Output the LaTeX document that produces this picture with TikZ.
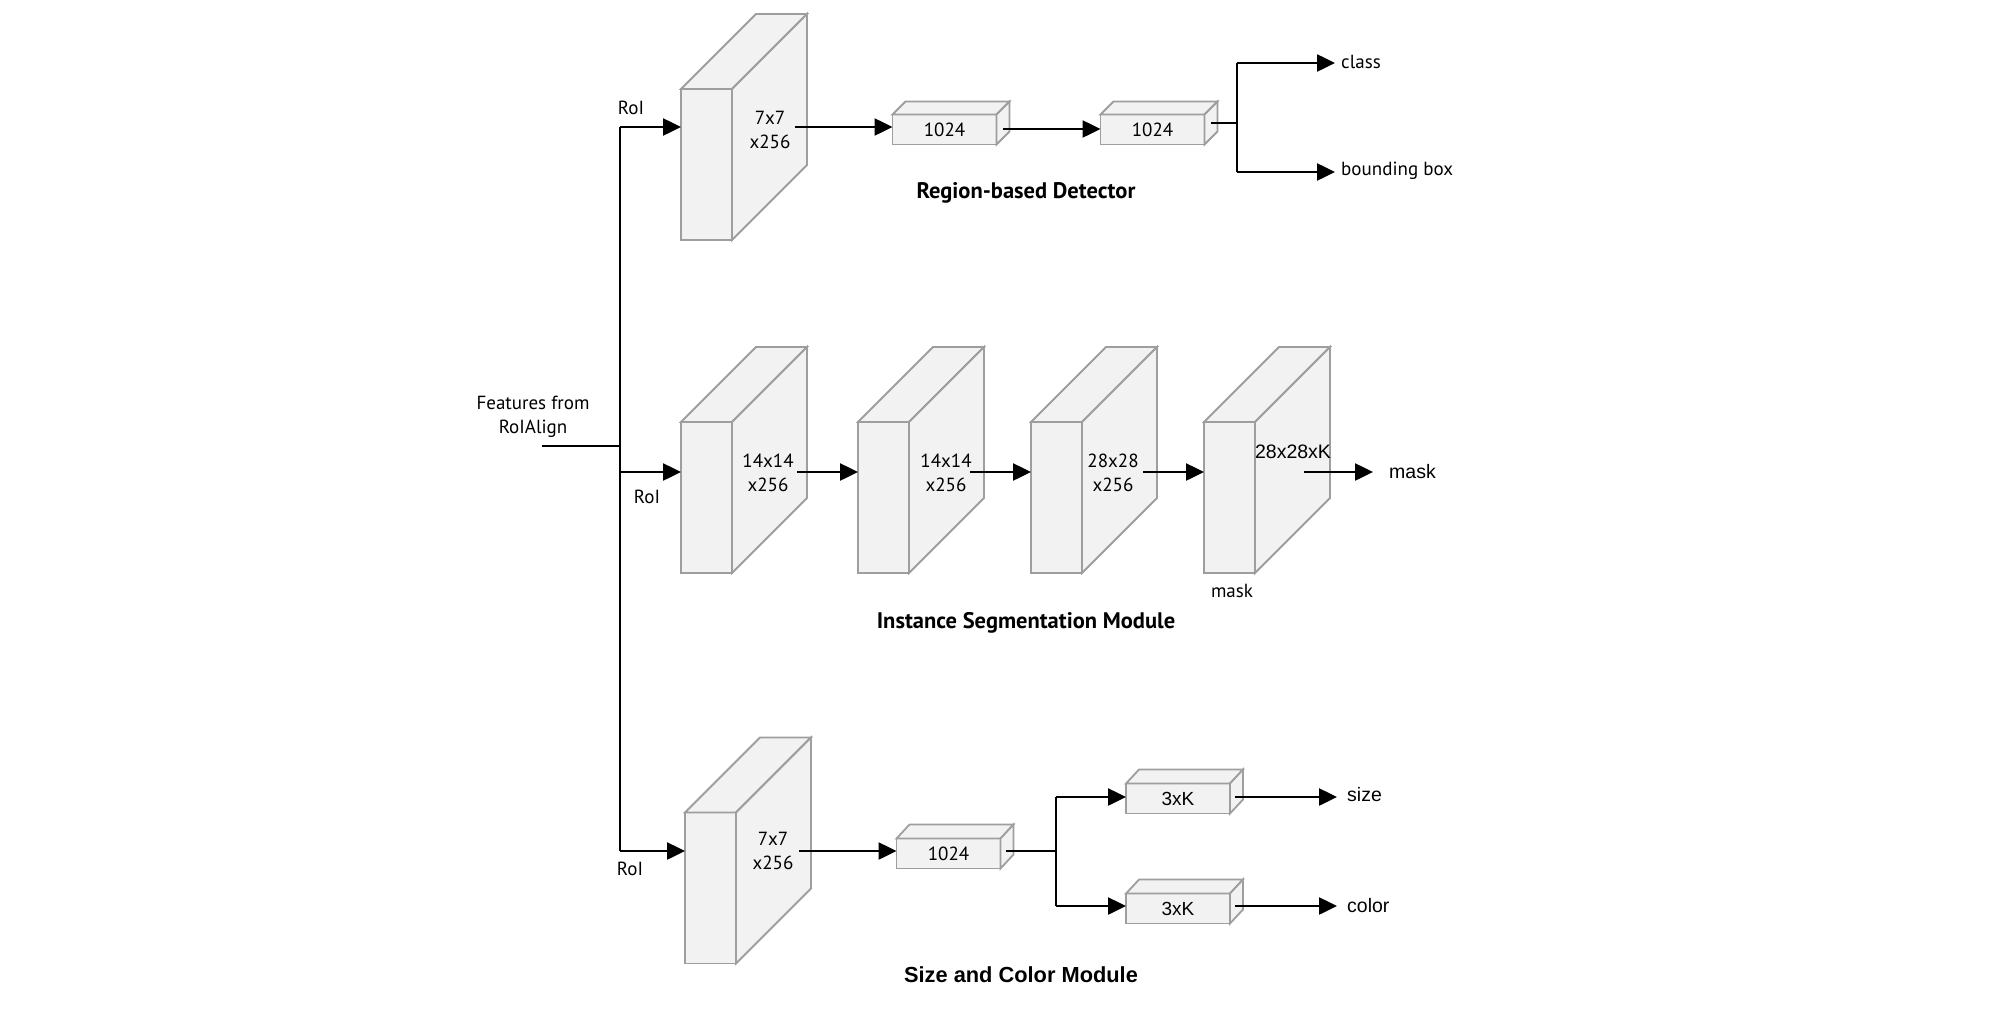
\documentclass[tikz,border=0pt]{standalone}
\usepackage{fontspec}
\setmainfont{PT Sans}
\newfontfamily\arialf{Liberation Sans}
\usetikzlibrary{arrows.meta,calc}
\definecolor{edgegray}{RGB}{158,158,158}
\definecolor{facegray}{RGB}{242,242,242}
\tikzset{
  face/.style={draw=edgegray, fill=facegray, line width=1.8pt, line join=miter},
  bigfront/.style={face, inner sep=0pt, outer sep=0pt, minimum width=51pt, minimum height=151pt},
  smallfront/.style={face, inner sep=0pt, outer sep=0pt, minimum width=104pt, minimum height=30pt, font=\fontsize{19}{24}\selectfont},
  smallfrontA/.style={smallfront, font=\arialf\fontsize{19}{24}\selectfont},
  lbl/.style={inner sep=0pt, align=center, font=\fontsize{19}{24}\selectfont},
  arl/.style={inner sep=0pt, align=center, font=\arialf\fontsize{19.5}{24}\selectfont},
  ttl/.style={inner sep=0pt, font=\bfseries\fontsize{22.5}{27}\selectfont},
  ttlA/.style={inner sep=0pt, font=\arialf\bfseries\fontsize{21.8}{26}\selectfont},
  conn/.style={line width=2.5pt, black},
  arr/.style={conn, -{Triangle[length=18pt,width=17pt]}},
}
\newcommand\depthfaces[3]{%
  \draw[face] (#1.north west) -- ++(#2,#3) -- ($(#1.north east)+(#2,#3)$) -- (#1.north east) -- cycle;
  \draw[face] (#1.north east) -- ++(#2,#3) -- ($(#1.south east)+(#2,#3)$) -- (#1.south east) -- cycle;
}
\begin{document}
\begin{tikzpicture}[x=1pt,y=-1pt]
\useasboundingbox (0,0) rectangle (2000,1036);

% ---------- big blocks ----------
\node[bigfront] (T1) at (706.5,164.5) {};
\depthfaces{T1}{75}{-75}
\node[bigfront] (M1) at (706.5,497.5) {};
\depthfaces{M1}{75}{-75}
\node[bigfront] (M2) at (883.5,497.5) {};
\depthfaces{M2}{75}{-75}
\node[bigfront] (M3) at (1056.5,497.5) {};
\depthfaces{M3}{75}{-75}
\node[bigfront] (M4) at (1229.5,497.5) {};
\depthfaces{M4}{75}{-75}
\node[bigfront] (B1) at (710.5,888) {};
\depthfaces{B1}{75}{-75}

% ---------- small boxes ----------
\node[smallfront] (TS1) at (944.5,129.5) {1024};
\depthfaces{TS1}{13}{-13}
\node[smallfront] (TS2) at (1152.5,129.5) {1024};
\depthfaces{TS2}{13}{-13}
\node[smallfront] (BS1) at (948.5,853.5) {1024};
\depthfaces{BS1}{13}{-14}
\node[smallfrontA] (BS2) at (1178,798.5) {3xK};
\depthfaces{BS2}{13}{-14}
\node[smallfrontA] (BS3) at (1178,908.5) {3xK};
\depthfaces{BS3}{13}{-14}

% ---------- block labels ----------
\node[lbl] (lT1) at (770,130) {7x7\\x256};
\node[lbl] (lM1) at (768,473) {14x14\\x256};
\node[lbl] (lM2) at (946,473) {14x14\\x256};
\node[lbl] (lM3) at (1113,473) {28x28\\x256};
\node[arl] (lM4) at (1293,452) {28x28xK};
\node[lbl] (lB1) at (773,851) {7x7\\x256};

% ---------- coordinates ----------
\coordinate (fin) at (542,446);
\coordinate (jF) at (620,446);
\coordinate (jT) at (620,127);
\coordinate (jM) at (620,472);
\coordinate (jB) at (620,851);
\coordinate (oT1) at (795,127);
\coordinate (oTS1) at (1003,129);
\coordinate (oTS2) at (1211,123);
\coordinate (jC) at (1237,123);
\coordinate (jCt) at (1237,63);
\coordinate (jCb) at (1237,172);
\coordinate (eClass) at (1335,63);
\coordinate (eBox) at (1335,172);
\coordinate (oM1) at (797,472);
\coordinate (oM2) at (970,472);
\coordinate (oM3) at (1143,472);
\coordinate (oM4) at (1304,472);
\coordinate (eMask) at (1373,472);
\coordinate (oB1) at (799,851);
\coordinate (oBS1) at (1006,851);
\coordinate (jS) at (1056,851);
\coordinate (jSt) at (1056,797);
\coordinate (jSb) at (1056,906);
\coordinate (oBS2) at (1235,797);
\coordinate (oBS3) at (1235,906);
\coordinate (eSize) at (1337,797);
\coordinate (eColor) at (1337,906);

% ---------- connectors ----------
\draw[conn] (fin) -- (jF);
\draw[conn] (jT) -- (jB);
\draw[arr] (jT) -- (T1.west |- jT);
\draw[arr] (jM) -- (M1.west |- jM);
\draw[arr] (jB) -- (B1.west |- jB);

\draw[arr] (oT1) -- (TS1.west |- oT1);
\draw[arr] (oTS1) -- (TS2.west |- oTS1);
\draw[conn] (oTS2) -- (jC);
\draw[conn] (jCt) -- (jCb);
\draw[arr] (jCt) -- (eClass);
\draw[arr] (jCb) -- (eBox);

\draw[arr] (oM1) -- (M2.west |- oM1);
\draw[arr] (oM2) -- (M3.west |- oM2);
\draw[arr] (oM3) -- (M4.west |- oM3);
\draw[arr] (oM4) -- (eMask);

\draw[arr] (oB1) -- (BS1.west |- oB1);
\draw[conn] (oBS1) -- (jS);
\draw[conn] (jSt) -- (jSb);
\draw[arr] (jSt) -- (BS2.west |- jSt);
\draw[arr] (jSb) -- (BS3.west |- jSb);
\draw[arr] (oBS2) -- (eSize);
\draw[arr] (oBS3) -- (eColor);

% ---------- text labels ----------
\node[lbl] (feat) at (533,417) {Features from\\RoIAlign};
\node[lbl] (roiT) at (631,108) {RoI};
\node[lbl] (roiM) at (647,497) {RoI};
\node[lbl] (roiB) at (630,869) {RoI};
\node[lbl, anchor=west] (tClass) at (1341,62) {class};
\node[lbl, anchor=west] (tBox) at (1341,171) {bounding box};
\node[arl, anchor=west] (tMask) at (1389,472) {mask};
\node[lbl] (tMask2) at (1232,591) {mask};
\node[arl, anchor=west] (tSize) at (1347,795) {size};
\node[arl, anchor=west] (tColor) at (1347,906) {color};
\node[ttl] (title1) at (1026,193) {Region-based Detector};
\node[ttl] (title2) at (1026,623) {Instance Segmentation Module};
\node[ttlA] (title3) at (1021,975) {Size and Color Module};
\end{tikzpicture}
\end{document}
